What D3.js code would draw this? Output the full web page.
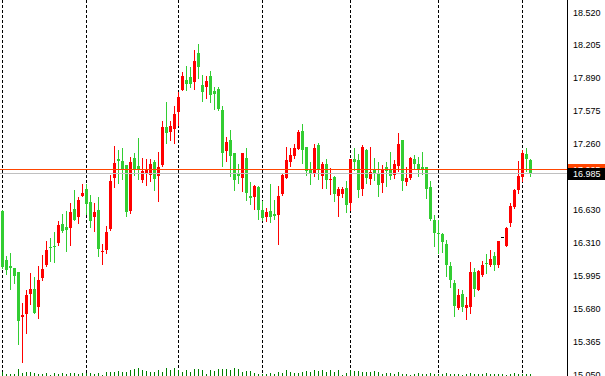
<!DOCTYPE html>
<html>
<head>
<meta charset="utf-8">
<script src="https://cdn.jsdelivr.net/npm/d3@7/dist/d3.min.js"></script>
<style>
body { margin: 0; background: #fff; }
svg { display: block; font-family: "Liberation Sans", Arial, sans-serif; }
</style>
</head>
<body>
<div id="chart"></div>
<script>
var opens = [
	16.616,16.147,16.089,16.077,16.032,15.604,15.633,15.821,15.869,15.700,
	15.975,16.099,16.271,16.281,16.309,16.491,16.463,16.453,16.635,16.558,
	16.759,16.826,16.702,16.558,16.625,16.223,16.245,16.446,16.934,17.113,
	17.094,17.056,16.619,17.123,17.046,16.915,16.982,16.963,17.085,16.954,
	17.059,17.420,17.375,17.403,17.566,17.774,17.869,17.898,17.850,18.128,
	17.822,17.802,17.908,17.764,17.783,17.582,17.190,17.295,17.171,16.979,
	16.932,17.123,16.759,16.750,16.845,16.625,16.558,16.616,16.587,16.577,
	16.778,16.932,17.085,17.142,17.209,17.381,17.228,17.008,16.979,17.247,
	16.951,17.066,16.912,16.941,16.759,16.778,16.836,16.692,17.113,17.104,
	16.826,17.199,16.922,17.018,16.979,16.884,17.037,17.018,16.960,17.046,
	17.295,16.893,16.932,17.113,17.066,17.037,17.037,16.845,16.530,16.405,
	16.396,16.300,16.089,15.927,15.690,15.821,15.690,15.700,16.035,15.863,
	16.006,16.121,16.102,16.188,16.102,16.367,16.284,16.501,16.657,16.817,
	16.944,17.161,17.104
];
var highs = [
	16.632,16.185,16.214,16.077,16.032,15.735,15.860,16.022,15.984,16.089,
	16.195,16.329,16.357,16.415,16.520,16.587,16.616,16.692,16.817,16.750,
	16.874,16.874,16.769,16.692,16.750,16.300,16.472,16.960,17.238,17.199,
	17.219,17.056,17.133,17.171,17.314,17.123,17.113,17.113,17.104,17.180,
	17.477,17.659,17.477,17.621,17.755,17.946,18.003,17.994,18.157,18.214,
	17.917,17.908,17.956,17.802,17.802,17.621,17.324,17.391,17.171,17.066,
	17.171,17.219,16.893,16.865,16.855,16.711,16.644,16.874,16.721,16.855,
	16.970,17.228,17.219,17.257,17.391,17.448,17.228,17.085,17.257,17.266,
	17.085,17.113,17.027,16.951,16.845,16.845,16.903,17.113,17.219,17.161,
	17.247,17.209,17.228,17.123,17.085,17.056,17.085,17.180,17.104,17.362,
	17.295,17.037,17.133,17.152,17.133,17.180,17.037,16.903,16.577,16.530,
	16.405,16.338,16.128,15.958,15.869,15.860,15.793,16.131,16.073,16.054,
	16.140,16.207,16.245,16.223,16.332,16.367,16.463,16.699,16.826,17.094,
	17.199,17.219,17.113
];
var lows = [
	16.077,16.013,15.872,15.930,15.343,15.171,15.451,15.726,15.640,15.595,
	15.955,16.089,16.137,16.128,16.290,16.415,16.233,16.290,16.530,16.501,
	16.759,16.587,16.463,16.427,16.188,16.111,16.217,16.437,16.848,16.887,
	16.925,16.571,16.599,16.963,16.925,16.896,16.867,16.906,16.820,16.714,
	17.049,17.269,17.298,17.269,17.442,17.774,17.774,17.802,17.783,17.889,
	17.668,17.697,17.659,17.592,17.582,17.046,17.094,16.951,16.817,16.884,
	16.807,16.721,16.683,16.635,16.539,16.530,16.520,16.510,16.539,16.300,
	16.769,16.932,17.046,17.123,17.209,17.075,16.960,16.874,16.951,16.922,
	16.836,16.836,16.778,16.711,16.568,16.750,16.606,16.625,17.008,16.750,
	16.769,16.884,16.874,16.912,16.759,16.798,16.855,16.922,16.932,16.999,
	16.817,16.865,16.922,17.018,16.951,16.970,16.740,16.530,16.281,16.214,
	16.226,15.997,15.891,15.614,15.681,15.662,15.585,15.642,15.805,15.860,
	15.997,16.025,16.092,16.054,16.083,16.367,16.284,16.472,16.651,16.795,
	16.903,17.005,16.954
];
var closes = [
	16.083,16.051,16.070,15.994,15.563,15.623,15.812,15.869,15.640,15.955,
	16.061,16.242,16.262,16.271,16.482,16.424,16.434,16.606,16.530,16.721,
	16.788,16.683,16.520,16.606,16.255,16.233,16.415,16.903,17.075,17.094,
	17.021,16.609,17.085,17.011,17.021,16.999,17.008,17.066,16.925,17.037,
	17.420,17.365,17.429,17.544,17.707,17.908,17.831,17.831,18.051,17.994,
	17.755,17.860,17.726,17.735,17.592,17.171,17.276,17.142,16.912,16.951,
	17.171,16.788,16.740,16.855,16.625,16.549,16.606,16.558,16.568,16.759,
	16.960,17.104,17.152,17.219,17.372,17.199,16.999,16.970,17.219,17.008,
	17.066,16.912,16.922,16.778,16.826,16.826,16.673,17.113,17.085,16.817,
	17.228,16.932,16.989,16.970,16.865,17.008,16.999,16.951,17.066,17.257,
	16.903,16.932,17.123,17.066,17.018,17.018,16.826,16.539,16.405,16.396,
	16.322,16.102,15.958,15.709,15.812,15.700,15.719,16.035,15.869,16.044,
	16.099,16.111,16.159,16.102,16.329,16.367,16.460,16.664,16.817,16.951,
	17.171,17.113,16.985
];
var volumes = [
	40,23,17,23,73,33,43,43,33,23,
	23,33,13,33,23,33,23,33,30,23,
	30,30,33,23,30,13,40,43,43,53,
	43,43,63,73,83,63,53,43,43,63,
	43,83,63,83,63,43,63,43,73,73,
	63,23,63,53,73,73,73,63,83,73,
	43,53,53,33,23,20,23,33,23,43,
	33,63,43,33,33,43,53,43,63,53,
	63,43,63,43,63,13,33,63,53,53,
	43,43,43,53,43,23,33,33,23,43,
	20,23,13,23,30,20,23,30,23,17,
	23,30,20,23,20,13,23,30,20,17,
	23,30,23,17,23,20,13,23,30,20,
	23,20,17
];
var tickLabels = ['18.520','18.205','17.890','17.575','17.260','16.945',
	'16.630','16.310','15.995','15.680','15.365','15.050'];
var separators = [0, 21, 44, 65, 87, 109, 130];
var bid = 16.985, ask = 17.025;

var cfg = {
	width: 605,
	height: 376,
	axisX: 567,
	upColor: '#ff0000',
	downColor: '#32cd32',
	volColor: '#008000'
};

var x = d3.scaleLinear().domain([0, 132]).range([2.5, 530.5]);
var y = d3.scaleLinear().domain([15.050, 18.520]).range([375, 12.4]);
var v = d3.scaleLinear().domain([0, 100]).range([cfg.height, cfg.height - 10]);

var bars = opens.map(function(o, i) {
	return { i: i, o: o, h: highs[i], l: lows[i], c: closes[i], vol: volumes[i] };
});

function barColor(d) {
	if (d.c > d.o) return cfg.upColor;
	if (d.c < d.o) return cfg.downColor;
	return '#000';
}

var svg = d3.select('#chart').append('svg')
	.attr('width', cfg.width)
	.attr('height', cfg.height);

svg.append('rect')
	.attr('width', cfg.width)
	.attr('height', cfg.height)
	.attr('fill', '#fff');

// period separators
svg.append('g').selectAll('line')
	.data(separators)
	.enter()
	.append('line')
	.attr('x1', function(d) { return x(d); })
	.attr('x2', function(d) { return x(d); })
	.attr('y1', 0)
	.attr('y2', cfg.height)
	.attr('stroke', '#000')
	.attr('stroke-width', 1)
	.attr('stroke-dasharray', '3,2');

// volumes
svg.append('g').selectAll('rect')
	.data(bars)
	.enter()
	.append('rect')
	.attr('x', function(d) { return x(d.i) - 0.5; })
	.attr('width', 1)
	.attr('y', function(d) { return Math.round(v(d.vol)); })
	.attr('height', function(d) { return cfg.height - Math.round(v(d.vol)); })
	.attr('fill', cfg.volColor);

// wicks
svg.append('g').selectAll('rect')
	.data(bars.filter(function(d) { return d.h !== d.l; }))
	.enter()
	.append('rect')
	.attr('x', function(d) { return x(d.i) - 0.5; })
	.attr('width', 1)
	.attr('y', function(d) { return Math.round(y(d.h)); })
	.attr('height', function(d) { return Math.round(y(d.l)) - Math.round(y(d.h)) + 1; })
	.attr('fill', barColor);

// bodies
svg.append('g').selectAll('rect')
	.data(bars)
	.enter()
	.append('rect')
	.attr('x', function(d) { return x(d.i) - 1.5; })
	.attr('width', 3)
	.attr('y', function(d) { return Math.round(y(Math.max(d.o, d.c))); })
	.attr('height', function(d) {
		return Math.max(1, Math.round(y(Math.min(d.o, d.c))) - Math.round(y(Math.max(d.o, d.c))));
	})
	.attr('fill', barColor);

// bid / ask lines
svg.append('line')
	.attr('x1', 0).attr('x2', cfg.axisX)
	.attr('y1', Math.round(y(bid)) + 0.5).attr('y2', Math.round(y(bid)) + 0.5)
	.attr('stroke', '#c0c0c0');
svg.append('line')
	.attr('x1', 0).attr('x2', cfg.axisX)
	.attr('y1', Math.round(y(ask)) + 0.5).attr('y2', Math.round(y(ask)) + 0.5)
	.attr('stroke', '#ff4500');

// price axis
svg.append('line')
	.attr('x1', cfg.axisX + 0.5).attr('x2', cfg.axisX + 0.5)
	.attr('y1', 0).attr('y2', cfg.height)
	.attr('stroke', '#000');

svg.append('g').selectAll('text')
	.data(tickLabels)
	.enter()
	.append('text')
	.attr('x', cfg.axisX + 6)
	.attr('y', function(d) { return y(+d); })
	.attr('dy', '0.35em')
	.attr('font-size', '9px')
	.attr('fill', '#000')
	.text(function(d) { return d; });

function priceBox(price, fill) {
	var cy = Math.round(y(price));
	svg.append('rect')
		.attr('x', cfg.axisX + 1)
		.attr('y', cy - 5)
		.attr('width', cfg.width - cfg.axisX - 1)
		.attr('height', 12)
		.attr('fill', fill);
	svg.append('text')
		.attr('x', cfg.axisX + 6)
		.attr('y', cy + 0.5)
		.attr('dy', '0.35em')
		.attr('font-size', '9px')
		.attr('fill', '#fff')
		.text(price.toFixed(3));
}
priceBox(ask, '#ff4500');
priceBox(bid, '#000');
</script>
</body>
</html>
